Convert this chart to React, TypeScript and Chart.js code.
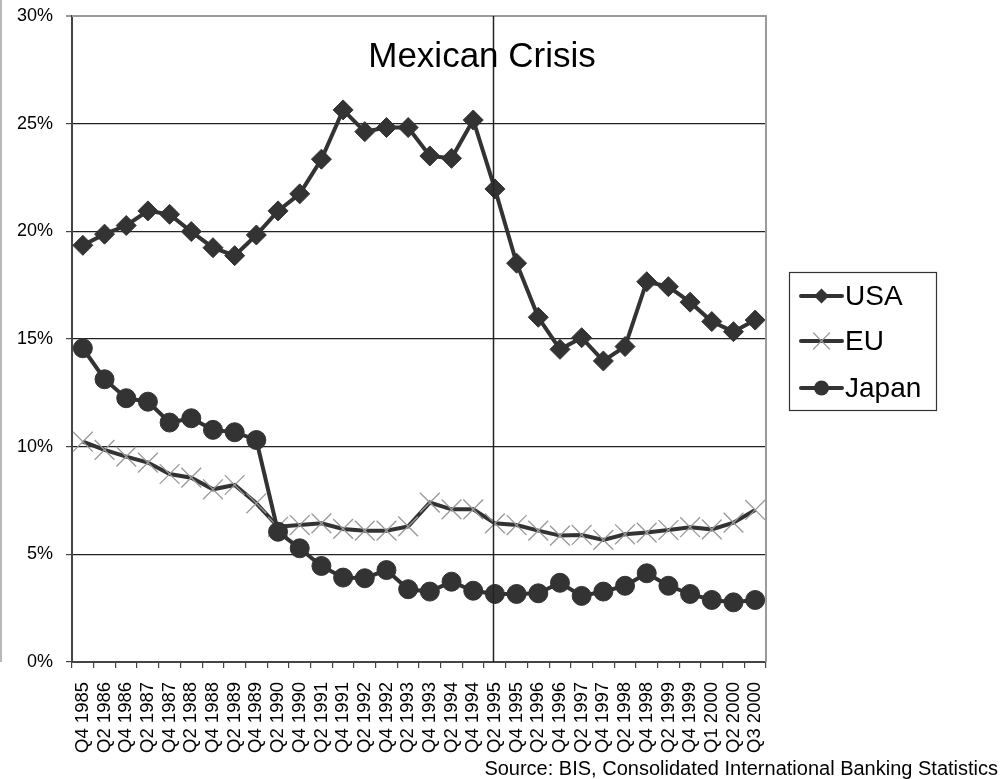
import React, { useEffect, useRef } from 'react';
import { Chart, registerables } from 'chart.js';

Chart.register(...registerables);

const categories = [
  'Q4 1985', 'Q2 1986', 'Q4 1986', 'Q2 1987', 'Q4 1987', 'Q2 1988', 'Q4 1988', 'Q2 1989',
  'Q4 1989', 'Q2 1990', 'Q4 1990', 'Q2 1991', 'Q4 1991', 'Q2 1992', 'Q4 1992', 'Q2 1993',
  'Q4 1993', 'Q2 1994', 'Q4 1994', 'Q2 1995', 'Q4 1995', 'Q2 1996', 'Q4 1996', 'Q2 1997',
  'Q4 1997', 'Q2 1998', 'Q4 1998', 'Q2 1999', 'Q4 1999', 'Q1 2000', 'Q2 2000', 'Q3 2000',
];

const usaShare = [
  19.35, 19.87, 20.27, 20.95, 20.79, 19.99, 19.24, 18.87,
  19.83, 20.95, 21.74, 23.35, 25.64, 24.63, 24.82, 24.82,
  23.5, 23.39, 25.17, 21.97, 18.52, 16.01, 14.52, 15.06,
  13.98, 14.65, 17.66, 17.43, 16.71, 15.81, 15.34, 15.88,
];

const euShare = [
  10.23, 9.85, 9.54, 9.26, 8.73, 8.56, 8.02, 8.22,
  7.37, 6.28, 6.36, 6.44, 6.18, 6.1, 6.1, 6.3,
  7.4, 7.09, 7.09, 6.44, 6.36, 6.1, 5.87, 5.9,
  5.67, 5.93, 6.01, 6.13, 6.26, 6.16, 6.47, 7.06,
];

const japanShare = [
  14.57, 13.13, 12.25, 12.09, 11.12, 11.32, 10.78, 10.67,
  10.31, 6.05, 5.28, 4.46, 3.92, 3.89, 4.27, 3.38,
  3.27, 3.73, 3.31, 3.16, 3.16, 3.19, 3.68, 3.07,
  3.27, 3.54, 4.12, 3.54, 3.16, 2.88, 2.77, 2.88,
];

const yTicks = [0, 5, 10, 15, 20, 25, 30];
const crisisLabel = 'Q2 1995';
const crisisTitle = 'Mexican Crisis';
const sourceNote = 'Source: BIS, Consolidated International Banking Statistics';

const FONT = '"Liberation Sans", Arial, sans-serif';
const LINE = '#333333';
const CROSS = '#999999';

type Marker = 'diamond' | 'cross' | 'circle';
const legendItems: { label: string; marker: Marker }[] = [
  { label: 'USA', marker: 'diamond' },
  { label: 'EU', marker: 'cross' },
  { label: 'Japan', marker: 'circle' },
];

function drawMarker(ctx: CanvasRenderingContext2D, marker: Marker, x: number, y: number) {
  ctx.save();
  if (marker === 'diamond') {
    const r = 7.5;
    ctx.fillStyle = LINE;
    ctx.beginPath();
    ctx.moveTo(x, y - r);
    ctx.lineTo(x + r, y);
    ctx.lineTo(x, y + r);
    ctx.lineTo(x - r, y);
    ctx.closePath();
    ctx.fill();
  } else if (marker === 'circle') {
    ctx.fillStyle = LINE;
    ctx.beginPath();
    ctx.arc(x, y, 7.5, 0, Math.PI * 2);
    ctx.fill();
  } else {
    const r = 8;
    ctx.strokeStyle = CROSS;
    ctx.lineWidth = 1.2;
    ctx.beginPath();
    ctx.moveTo(x - r, y - r);
    ctx.lineTo(x + r, y + r);
    ctx.moveTo(x + r, y - r);
    ctx.lineTo(x - r, y + r);
    ctx.stroke();
  }
  ctx.restore();
}

const overlayPlugin = {
  id: 'overlay',
  afterDraw(chart: any) {
    const { ctx, chartArea, scales } = chart;
    const { left, right, top, bottom } = chartArea;
    ctx.save();

    // frame edges on the top/right
    ctx.strokeStyle = '#9a9a9a';
    ctx.lineWidth = 2;
    ctx.beginPath();
    ctx.moveTo(left, top);
    ctx.lineTo(right, top);
    ctx.lineTo(right, bottom);
    ctx.stroke();

    // slide edge on the far left
    ctx.strokeStyle = '#a0a0a0';
    ctx.lineWidth = 1.5;
    ctx.beginPath();
    ctx.moveTo(1, 0);
    ctx.lineTo(1, 662);
    ctx.stroke();

    // crisis marker line
    const cx = Math.round(scales.x.getPixelForValue(categories.indexOf(crisisLabel))) - 1.5;
    ctx.strokeStyle = '#222';
    ctx.lineWidth = 1.5;
    ctx.beginPath();
    ctx.moveTo(cx, top);
    ctx.lineTo(cx, bottom);
    ctx.stroke();

    ctx.fillStyle = '#000';
    ctx.font = `35px ${FONT}`;
    ctx.textAlign = 'center';
    ctx.textBaseline = 'alphabetic';
    ctx.fillText(crisisTitle, 482, 67);

    // legend
    const lx = 789, ly = 272, lw = 147, lh = 138;
    ctx.fillStyle = '#fff';
    ctx.fillRect(lx, ly, lw, lh);
    ctx.strokeStyle = '#333';
    ctx.lineWidth = 1.2;
    ctx.strokeRect(lx + 0.5, ly + 0.5, lw, lh);
    const rows = [296, 341, 388];
    legendItems.forEach((item, i) => {
      const y = rows[i];
      ctx.strokeStyle = LINE;
      ctx.lineWidth = 4;
      ctx.lineCap = 'round';
      ctx.beginPath();
      ctx.moveTo(801, y);
      ctx.lineTo(842, y);
      ctx.stroke();
      drawMarker(ctx, item.marker, 821.5, y);
      ctx.fillStyle = '#000';
      ctx.font = `28px ${FONT}`;
      ctx.textAlign = 'left';
      ctx.textBaseline = 'middle';
      ctx.fillText(item.label, 845, y + 1);
    });

    // source note
    ctx.fillStyle = '#000';
    ctx.font = `20px ${FONT}`;
    ctx.textAlign = 'right';
    ctx.textBaseline = 'alphabetic';
    ctx.fillText(sourceNote, 998, 775);

    ctx.restore();
  },
};

export default function App() {
  const canvasRef = useRef<HTMLCanvasElement | null>(null);

  useEffect(() => {
    document.body.style.margin = '0';
    const canvas = canvasRef.current;
    if (!canvas) return;

    const chart = new Chart(canvas, {
      type: 'line',
      data: {
        labels: categories,
        datasets: [
          {
            label: 'USA',
            data: usaShare,
            borderColor: LINE,
            borderWidth: 4,
            backgroundColor: LINE,
            pointStyle: 'rectRot',
            pointRadius: 10,
            pointBorderWidth: 1,
            pointBackgroundColor: LINE,
            pointBorderColor: LINE,
            tension: 0,
            order: 0,
          },
          {
            label: 'EU',
            data: euShare,
            borderColor: LINE,
            borderWidth: 4,
            backgroundColor: CROSS,
            pointStyle: 'crossRot',
            pointRadius: 14,
            pointBorderWidth: 1.3,
            pointBorderColor: CROSS,
            pointBackgroundColor: CROSS,
            tension: 0,
            order: 2,
          },
          {
            label: 'Japan',
            data: japanShare,
            borderColor: LINE,
            borderWidth: 4,
            backgroundColor: LINE,
            pointStyle: 'circle',
            pointRadius: 9.5,
            pointBorderWidth: 1,
            pointBackgroundColor: LINE,
            pointBorderColor: LINE,
            tension: 0,
            order: 1,
          },
        ],
      },
      options: {
        responsive: false,
        animation: false,
        events: [],
        layout: { padding: { top: 16, right: 236, bottom: 0, left: 0 } },
        plugins: {
          legend: { display: false },
          tooltip: { enabled: false },
          title: { display: false },
        },
        scales: {
          x: {
            type: 'category',
            offset: true,
            grid: {
              offset: true,
              drawOnChartArea: false,
              drawTicks: true,
              tickLength: 6,
              tickColor: '#444',
              lineWidth: 1.2,
            },
            border: { display: true, color: '#444', width: 2 },
            ticks: {
              autoSkip: false,
              maxRotation: 90,
              minRotation: 90,
              padding: 14,
              color: '#000',
              font: { family: FONT, size: 18.5 },
            },
            afterFit(scale: any) {
              scale.height = 117;
              scale.paddingLeft = 0;
              scale.paddingRight = 0;
            },
          },
          y: {
            min: 0,
            max: 30,
            afterBuildTicks(scale: any) {
              scale.ticks = yTicks.map((v) => ({ value: v }));
            },
            grid: {
              color: (c: any) => (c.tick && c.tick.value === 30 ? '#9a9a9a' : '#222'),
              tickColor: (c: any) => (c.tick && c.tick.value === 30 ? '#9a9a9a' : '#444'),
              lineWidth: (c: any) => (c.tick && c.tick.value === 30 ? 2 : 1.2),
              drawTicks: true,
              tickLength: 6,
            },
            border: { display: true, color: '#444', width: 2 },
            ticks: {
              padding: 13,
              color: '#000',
              font: { family: FONT, size: 18 },
              callback: (v: any) => `${v}%`,
            },
            afterFit(scale: any) {
              scale.width = 72;
              scale.paddingTop = 0;
              scale.paddingBottom = 0;
            },
          },
        },
      },
      plugins: [overlayPlugin],
    });

    return () => chart.destroy();
  }, []);

  return (
    <div style={{ width: 1002, height: 779, background: '#fff' }}>
      <canvas ref={canvasRef} width={1002} height={779} style={{ display: 'block' }} />
    </div>
  );
}
